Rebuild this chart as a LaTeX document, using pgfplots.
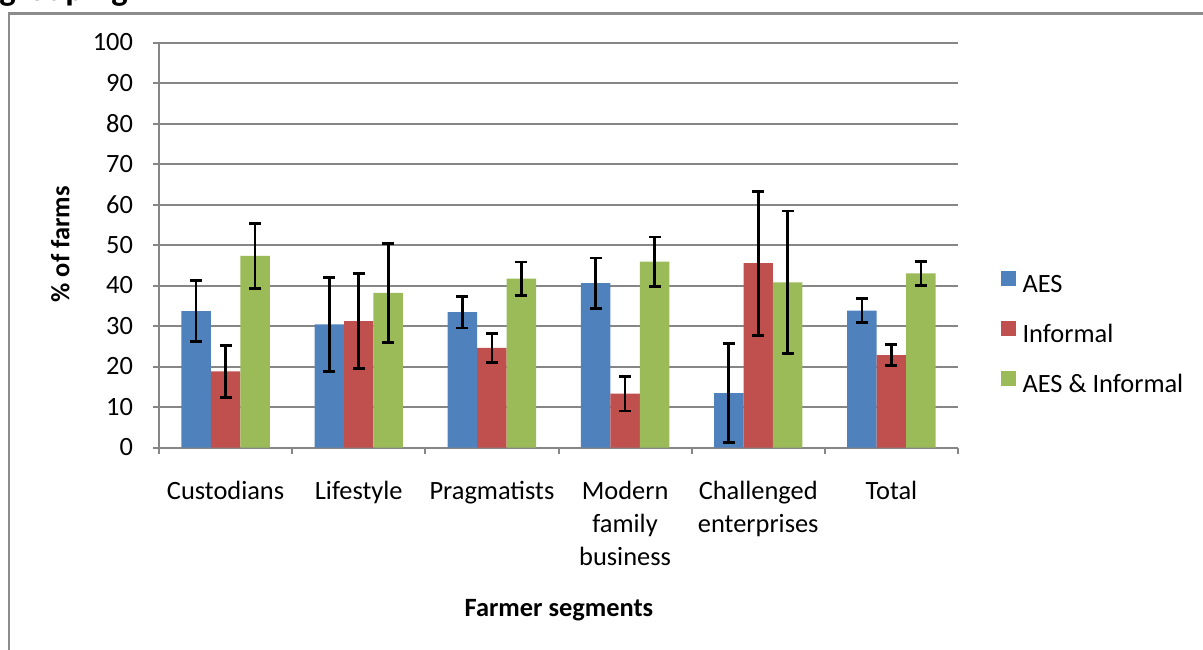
\documentclass[border=0pt]{standalone}
\usepackage{pgfplots}
\pgfplotsset{compat=1.18}
\usepackage{fontspec}
\setmainfont{Carlito}
\definecolor{cA}{HTML}{4F81BD}
\definecolor{cB}{HTML}{C0504D}
\definecolor{cC}{HTML}{9BBB59}
\definecolor{gridc}{HTML}{868686}
\definecolor{framec}{HTML}{8C8C8C}

\pgfplotstableread{
x  y     e
0  33.7  7.6
1  30.4  11.6
2  33.4  3.9
3  40.6  6.2
4  13.4  12.2
5  33.8  2.9
}\aes
\pgfplotstableread{
x  y     e
0  18.8  6.4
1  31.2  11.7
2  24.6  3.6
3  13.3  4.3
4  45.5  17.8
5  22.8  2.6
}\informal
\pgfplotstableread{
x  y     e
0  47.3  8.1
1  38.2  12.2
2  41.7  4.1
3  45.9  6.1
4  40.8  17.6
5  43.0  3.0
}\both

\begin{document}
\begin{tikzpicture}
\path[use as bounding box] (0bp,0bp) rectangle (601.5bp,-325bp);
\draw[framec, line width=1.25bp] (4.5bp,-400bp) -- (4.5bp,-6.85bp) -- (700bp,-6.85bp);
\node[anchor=base west, inner sep=0pt, font=\bfseries\fontsize{17.5}{20}\selectfont] at (-0.5bp,-0.2bp) {grouping};
\begin{axis}[
  at={(79.5bp,-223.75bp)}, anchor=south west,
  scale only axis, width=399.5bp, height=202.5bp,
  xmin=-0.5, xmax=5.5, ymin=0, ymax=100,
  ytick={0,10,...,100},
  xtick={-0.5,0.5,1.5,2.5,3.5,4.5,5.5},
  x tick label as interval,
  xticklabels={Custodians,Lifestyle,Pragmatists,{Modern\\family\\business},{Challenged\\enterprises},Total},
  xticklabel style={align=center, anchor=north, inner sep=0pt, yshift=-13.8bp, font=\fontsize{13.25}{16.6}\selectfont},
  yticklabel style={font=\fontsize{13.25}{15}\selectfont, xshift=-6.5bp},
  /pgf/number format/assume math mode=true,
  tick align=outside,
  major tick length=3bp,
  axis x line*=bottom, axis y line*=left,
  axis line style={gridc, line width=1bp, -},
  tick style={gridc, line width=1bp},
  ymajorgrids,
  major grid style={gridc, line width=1bp},
  xlabel={Farmer segments},
  ylabel={\% of farms},
  xlabel style={at={(axis description cs:0.5006,-0.402)}, anchor=center, font=\bfseries\fontsize{13.25}{15}\selectfont},
  ylabel style={at={(axis description cs:-0.1235,0.502)}, anchor=center, rotate=0, font=\bfseries\fontsize{13.25}{15}\selectfont},
  ybar, bar width=0.2215,
  legend style={draw=none, fill=none, at={(1.0535,0.2785)}, anchor=west, inner sep=0pt,
    row sep=11bp, font=\fontsize{13.25}{15}\selectfont,
    nodes={inner ysep=0pt, inner xsep=3.2bp, text height=9bp, text depth=3bp}},
  legend cell align=left,
  legend image code/.code={\fill[#1] (0bp,0.45bp) rectangle (7.5bp,7.95bp);},
]
\addplot[fill=cA, draw=none, bar shift=-0.2215,
  error bars/.cd, y dir=both, y explicit,
  error bar style={black, line width=1.4bp},
  error mark options={black, line width=1.4bp, mark size=3bp, rotate=90}]
  table[x=x, y=y, y error=e] {\aes};
\addplot[fill=cB, draw=none, bar shift=0,
  error bars/.cd, y dir=both, y explicit,
  error bar style={black, line width=1.4bp},
  error mark options={black, line width=1.4bp, mark size=3bp, rotate=90}]
  table[x=x, y=y, y error=e] {\informal};
\addplot[fill=cC, draw=none, bar shift=0.2215,
  error bars/.cd, y dir=both, y explicit,
  error bar style={black, line width=1.4bp},
  error mark options={black, line width=1.4bp, mark size=3bp, rotate=90}]
  table[x=x, y=y, y error=e] {\both};
\legend{AES, Informal, AES \& Informal}
\end{axis}
\end{tikzpicture}
\end{document}
